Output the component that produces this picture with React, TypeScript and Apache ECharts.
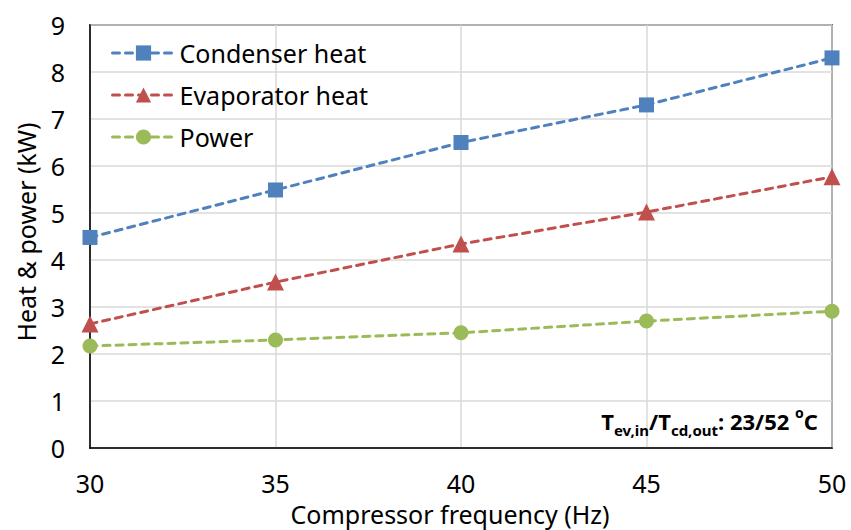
import React, { useEffect, useRef } from "react";
import * as echarts from "echarts";

const frequencies = [30, 35, 40, 45, 50];
const condenserHeat = [4.48, 5.49, 6.5, 7.3, 8.3];
const evaporatorHeat = [2.64, 3.53, 4.34, 5.02, 5.77];
const power = [2.17, 2.3, 2.45, 2.7, 2.91];

const seriesNames = ["Condenser heat", "Evaporator heat", "Power"];
const seriesColors = ["#4F81BD", "#C0504D", "#9BBB59"];
const seriesSymbols = ["rect", "triangle", "circle"];

const FONT = "'Noto Sans', 'Open Sans', sans-serif";

export default function App() {
  const ref = useRef<HTMLDivElement>(null);

  useEffect(() => {
    if (!ref.current) return;
    const chart = echarts.init(ref.current, undefined, { renderer: "svg" });
    const values = [condenserHeat, evaporatorHeat, power];
    const series = values.map((vals, i) => ({
      name: seriesNames[i],
      type: "line",
      data: frequencies.map((f, j) => [f, vals[j]]),
      symbol: seriesSymbols[i],
      symbolSize: i === 1 ? 17 : 15,
      itemStyle: { color: seriesColors[i] },
      lineStyle: { color: seriesColors[i], width: 3, type: [7, 6], cap: "round" },
      z: 3 - i,
    }));

    chart.setOption({
      animation: false,
      backgroundColor: "#fff",
      textStyle: { fontFamily: FONT },
      grid: {
        left: 90,
        right: 19,
        top: 25,
        bottom: 82,
        outerBoundsMode: "none",
        containLabel: false,
        show: true,
        borderColor: "#000",
        borderWidth: 1.5,
      },
      legend: {
        orient: "vertical",
        left: 106,
        top: 33,
        itemWidth: 62,
        itemHeight: 19,
        itemGap: 12,
        data: seriesNames,
        lineStyle: { width: 3, type: [7, 6], cap: "round" },
        textStyle: { fontSize: 25, color: "#000", fontFamily: FONT, lineHeight: 30 },
      },
      xAxis: {
        type: "value",
        min: 30,
        max: 50,
        interval: 5,
        name: "Compressor frequency (Hz)",
        nameLocation: "middle",
        nameGap: 51,
        nameTextStyle: { fontSize: 25, color: "#000", fontFamily: FONT, lineHeight: 28, padding: [0, 22, 0, 0] },
        axisLine: { show: true, lineStyle: { color: "#000", width: 1.5 } },
        axisTick: { show: false },
        axisLabel: { fontSize: 25, color: "#000", margin: 22, fontFamily: FONT },
        splitLine: { show: true, lineStyle: { color: "#d9d9d9", width: 1.5 } },
      },
      yAxis: {
        type: "value",
        min: 0,
        max: 9,
        interval: 1,
        name: "Heat & power (kW)",
        nameLocation: "middle",
        nameGap: 52,
        nameTextStyle: { fontSize: 25, color: "#000", fontFamily: FONT, padding: [0, 0, 0, 9] },
        axisLine: { show: true, lineStyle: { color: "#000", width: 1.5 } },
        axisTick: { show: false },
        axisLabel: { fontSize: 25, color: "#000", margin: 25, fontFamily: FONT },
        splitLine: { show: true, lineStyle: { color: "#d9d9d9", width: 1.5 } },
      },
      graphic: [
        {
          type: "text",
          right: 33,
          top: 405,
          z: 10,
          style: {
            text: "{m|T}{sub|ev,in}{m|/T}{sub|cd,out}{m|: 23/52 }{sup|o}{m|C}",
            fill: "#000",
            rich: {
              m: { fontSize: 22, fontWeight: "bold", fontFamily: FONT, lineHeight: 32, fill: "#000" },
              sub: { fontSize: 15, fontWeight: "bold", fontFamily: FONT, lineHeight: 15, verticalAlign: "bottom", fill: "#000" },
              sup: { fontSize: 14, fontWeight: "bold", fontFamily: FONT, lineHeight: 17, verticalAlign: "top", fill: "#000" },
            },
          },
        },
      ],
      series,
    });
    return () => chart.dispose();
  }, []);

  return (
    <div
      ref={ref}
      style={{ position: "fixed", left: 0, top: 0, width: 851, height: 530, background: "#fff" }}
    />
  );
}
